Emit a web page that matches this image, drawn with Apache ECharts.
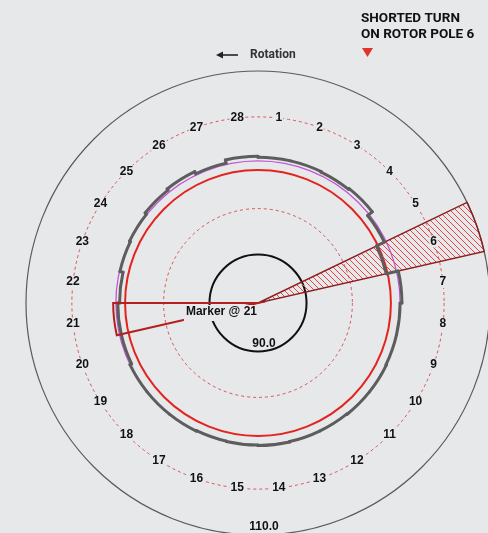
<!DOCTYPE html>
<html><head><meta charset="utf-8">
<script src="https://cdn.jsdelivr.net/npm/echarts@6.0.0/dist/echarts.min.js"></script>
<style>html,body{margin:0;padding:0;background:#e7e8ea;}#main{width:488px;height:533px;}</style>
</head><body><div id="main"></div>
<script>
// ---- data ----
const poleLabels = ['1','2','3','4','5','6','7','8','9','10','11','12','13','14','15','16','17','18','19','20','21','22','23','24','25','26','27','28'];
const gapValues = [100.6,100.6,100.55,100.65,100.0,99.05,100.4,100.2,100.2,100.25,100.25,100.2,100.2,100.25,100.2,100.15,100.2,100.2,100.2,100.0,100.0,99.8,100.15,100.25,100.45,100.6,100.35,100.7];
const ringLevels = [90, 95, 99.2, 100.2, 105, 110];
const scaleLabels = ['90.0', '110.0'];
const scaleLabelLevels = [90, 110];
const labelRingLevel = 105;
const shortedPole = 6;
const markerPole = 21;
const markerValue = 100.5;
const scaleMin = 84.71, scaleMax = 110;

// ---- styles ----
const BG = '#e7e8ea';
const ringStyles = [
  {color:'#111111', width:2, dash:null},
  {color:'#d9535a', width:1, dash:[3,3]},
  {color:'#e3231f', width:2, dash:null},
  {color:'#c455d6', width:1.3, dash:null},
  {color:'#d9535a', width:1, dash:[3,3]},
  {color:'#5a5a5a', width:1.2, dash:null}
];
const LABEL_FONT = 'bold 12px "Liberation Sans"';

const N = poleLabels.length;
const STEP = 360 / N;
const bandStart = i => i * STEP;
const bandEnd = i => (i + 1) * STEP;
const bandMid = i => (i + 0.5) * STEP;

function center(api){ return api.coord([scaleMin, 0]); }
function rad(api, c, v){ const p = api.coord([v, 0]); return Math.hypot(p[0]-c[0], p[1]-c[1]); }
function ang(api, c, a){ const p = api.coord([scaleMax, a]); return Math.atan2(p[1]-c[1], p[0]-c[0]); }
function sweep(api, c, a0, a1){
  const s = ang(api, c, a0); let e = ang(api, c, a1);
  let d = e - s; while (d <= 0) d += Math.PI * 2;
  return [s, s + d];
}

// hatch pattern
const hatch = document.createElement('canvas');
hatch.width = 6; hatch.height = 6;
(function(){
  const g = hatch.getContext('2d');
  g.strokeStyle = '#e0484a'; g.lineWidth = 1;
  g.beginPath();
  g.moveTo(-1,-1); g.lineTo(7,7);
  g.moveTo(-1,5); g.lineTo(1,7);
  g.moveTo(5,-1); g.lineTo(7,1);
  g.stroke();
})();

const chart = echarts.init(document.getElementById('main'), null, {renderer:'canvas'});

const option = {
  backgroundColor: BG,
  animation: false,
  polar: { center: [258, 303], radius: 232 },
  angleAxis: { type:'value', min:0, max:360, startAngle:90, clockwise:true, show:false, splitLine:{show:false}, axisLine:{show:false} },
  radiusAxis: { type:'value', min:scaleMin, max:scaleMax, show:false, splitLine:{show:false} },
  graphic: [
    { type:'text', left: 361, top: 11, style:{ text:'SHORTED TURN\nON ROTOR POLE 6', font:'bold 13.5px Roboto', lineHeight:16, fill:'#111' } },
    { type:'polygon', shape:{ points:[[362,48],[373,48],[367.5,57]] }, style:{ fill:'#e0322e' } },
    { type:'line', shape:{ x1:221, y1:55, x2:238, y2:55 }, style:{ stroke:'#222', lineWidth:1.6 } },
    { type:'polygon', shape:{ points:[[216,55],[223,51.5],[223,58.5]] }, style:{ fill:'#222' } },
    { type:'text', x: 250, y: 55, style:{ text:'Rotation', font:'bold 12px Roboto', fill:'#333', verticalAlign:'middle' } }
  ],
  series: [
    {
      type:'custom', coordinateSystem:'polar', z:2, silent:true,
      data: ringLevels.map((v,i)=>[v,i]),
      renderItem(params, api){
        const c = center(api);
        const r = rad(api, c, api.value(0));
        const st = ringStyles[api.value(1)];
        return { type:'circle', shape:{cx:c[0], cy:c[1], r:r}, style:{ fill:'none', stroke:st.color, lineWidth:st.width, lineDash:st.dash } };
      }
    },
    {
      type:'custom', coordinateSystem:'polar', z:3, silent:true,
      data: [[scaleMax, shortedPole-1]],
      renderItem(params, api){
        const c = center(api);
        const r = rad(api, c, api.value(0));
        const i = api.value(1);
        const [s, e] = sweep(api, c, bandStart(i), bandEnd(i));
        return { type:'group', children:[
          { type:'sector', shape:{cx:c[0], cy:c[1], r0:0, r:r, startAngle:s, endAngle:e, clockwise:true}, style:{ fill:{image:hatch, repeat:'repeat'}, stroke:'none' } },
          { type:'sector', z2:10, shape:{cx:c[0], cy:c[1], r0:0, r:r, startAngle:s, endAngle:e, clockwise:true}, style:{ fill:'none', stroke:'#8c1d1d', lineWidth:1.4 } }
        ]};
      }
    },
    {
      type:'custom', coordinateSystem:'polar', z:5, silent:true,
      data: gapValues.map((v,i)=>[v, i, gapValues[(i+1)%N]]),
      renderItem(params, api){
        const c = center(api);
        const v = api.value(0), i = api.value(1), nx = api.value(2);
        const r = rad(api, c, v);
        const [s, e] = sweep(api, c, bandStart(i), bandEnd(i));
        const p1 = api.coord([v, bandEnd(i)]);
        const p2 = api.coord([nx, bandEnd(i)]);
        return { type:'group', children:[
          { type:'arc', shape:{cx:c[0], cy:c[1], r:r, startAngle:s, endAngle:e, clockwise:true}, style:{ fill:'none', stroke:'#5d5d5d', lineWidth:3, lineCap:'round' } },
          { type:'line', shape:{x1:p1[0], y1:p1[1], x2:p2[0], y2:p2[1]}, style:{ stroke:'#5d5d5d', lineWidth:3, lineCap:'round' } }
        ]};
      }
    },
    {
      type:'custom', coordinateSystem:'polar', z:6, silent:true,
      data: [[markerValue, markerPole-1]],
      renderItem(params, api){
        const c = center(api);
        const r = rad(api, c, api.value(0));
        const i = api.value(1);
        const [s, e] = sweep(api, c, bandStart(i), bandEnd(i));
        return { type:'group', children:[
          { type:'sector', shape:{cx:c[0], cy:c[1], r0:0, r:r, startAngle:s, endAngle:e, clockwise:true}, style:{ fill:'none', stroke:'#b3201f', lineWidth:2 } },
          { type:'text', z2:10, x:c[0]+1, y:c[1]+2, style:{ text:'Marker @ ' + poleLabels[i], font:LABEL_FONT, fill:'#111', align:'right', verticalAlign:'top', backgroundColor:BG, padding:[1,2,3,2] } }
        ]};
      }
    },
    {
      type:'custom', coordinateSystem:'polar', z:8, silent:true,
      data: poleLabels.map((l,i)=>[labelRingLevel, bandMid(i), i]),
      renderItem(params, api){
        const p = api.coord([api.value(0), api.value(1)]);
        return { type:'text', x:p[0], y:p[1], style:{ text:poleLabels[api.value(2)], font:LABEL_FONT, fill:'#111', align:'center', verticalAlign:'middle', backgroundColor:BG, padding:[0,1] } };
      }
    },
    {
      type:'custom', coordinateSystem:'polar', z:8, silent:true,
      data: scaleLabelLevels.map((v,i)=>[v, 180, i]),
      renderItem(params, api){
        const p = api.coord([api.value(0), api.value(1)]);
        return { type:'text', x:p[0]+6, y:p[1]-8, style:{ text:scaleLabels[api.value(2)], font:LABEL_FONT, fill:'#111', align:'center', verticalAlign:'middle' } };
      }
    }
  ]
};
chart.setOption(option);
</script>
</body></html>
